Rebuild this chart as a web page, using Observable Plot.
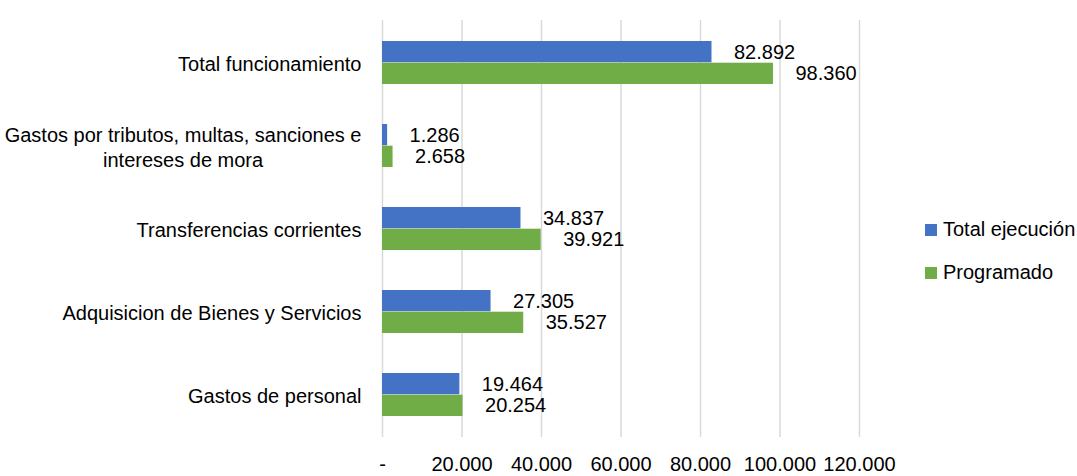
<!DOCTYPE html>
<html>
<head>
<meta charset="utf-8">
<script src="https://cdn.jsdelivr.net/npm/d3@7"></script>
<script src="https://cdn.jsdelivr.net/npm/@observablehq/plot@0.6"></script>
<style>
  body { margin: 0; background: #fff; }
  #wrap { position: relative; width: 1077px; height: 476px; overflow: hidden; }
  #chart { position: absolute; left: 0; top: 0; }
  #legend { position: absolute; left: 925px; top: 208px; font-family: "Liberation Sans", Arial, sans-serif; font-size: 20px; color: #000; }
  .row { display: flex; align-items: center; height: 43px; white-space: nowrap; }
  .sw { width: 12px; height: 12px; margin-right: 6px; flex: none; }
</style>
</head>
<body>
<div id="wrap"><div id="chart"></div><div id="legend"></div></div>
<script>
const categories = [
  "Total funcionamiento",
  "Gastos por tributos, multas, sanciones e\nintereses de mora",
  "Transferencias corrientes",
  "Adquisicion de Bienes y Servicios",
  "Gastos de personal"
];
const series = ["Total ejecución", "Programado"];
const colors = ["#4472C4", "#70AD47"];
const ejecucion = [82892, 1286, 34837, 27305, 19464];
const programado = [98360, 2658, 39921, 35527, 20254];
const xTicks = [0, 20000, 40000, 60000, 80000, 100000, 120000];

const fontFamily = '"Liberation Sans", Arial, sans-serif';
const fmt = d3.formatLocale({decimal: ",", thousands: ".", grouping: [3], currency: ["", ""]}).format(",d");

const blueRows = categories.map((c, i) => ({category: c, series: series[0], value: ejecucion[i]}));
const greenRows = categories.map((c, i) => ({category: c, series: series[1], value: programado[i]}));

const chart = Plot.plot({
  width: 1077,
  height: 476,
  marginLeft: 382,
  marginRight: 218,
  marginTop: 20,
  marginBottom: 39,
  style: {fontFamily, fontSize: "20px", color: "#000", background: "white"},
  x: {domain: [0, 120000]},
  y: {domain: categories, padding: 0},
  color: {domain: series, range: colors},
  marks: [
    Plot.gridX(xTicks, {stroke: "#d9d9d9", strokeWidth: 1.5, strokeOpacity: 1}),
    Plot.barX(blueRows, {x: "value", y: "category", fill: "series", insetTop: 20, insetBottom: 41.7}),
    Plot.barX(greenRows, {x: "value", y: "category", fill: "series", insetTop: 41.7, insetBottom: 20}),
    Plot.text(blueRows, {x: "value", y: "category", text: d => fmt(d.value), dx: 22, dy: -10.7, textAnchor: "start", fill: "#000", fontSize: 20}),
    Plot.text(greenRows, {x: "value", y: "category", text: d => fmt(d.value), dx: 22, dy: 10.7, textAnchor: "start", fill: "#000", fontSize: 20}),
    Plot.axisX({ticks: xTicks, tickSize: 0, tickPadding: 19, tickFormat: d => d === 0 ? "-" : fmt(d), label: null, fontSize: 20}),
    Plot.axisY({tickSize: 0, tickPadding: 21, label: null, fontSize: 20, lineHeight: 1.25})
  ]
});
document.getElementById("chart").appendChild(chart);

// Center multi-line category labels like the original
d3.select(chart).selectAll('g[aria-label="y-axis tick label"] text').each(function() {
  const tspans = d3.select(this).selectAll("tspan");
  if (tspans.size() > 1) {
    let maxLen = 0;
    tspans.each(function() { maxLen = Math.max(maxLen, this.getComputedTextLength()); });
    d3.select(this).attr("text-anchor", "middle");
    tspans.attr("x", -maxLen / 2);
  }
});

// Legend
const legend = d3.select("#legend");
series.forEach((s, i) => {
  const row = legend.append("div").attr("class", "row");
  row.append("div").attr("class", "sw").style("background", colors[i]);
  row.append("span").text(s);
});
</script>
</body>
</html>
